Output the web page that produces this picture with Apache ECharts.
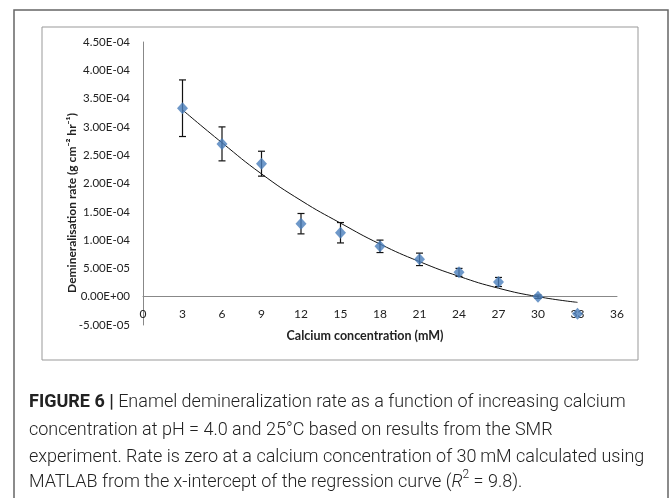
<!DOCTYPE html>
<html>
<head>
<meta charset="utf-8">
<script src="https://cdn.jsdelivr.net/npm/echarts@6/dist/echarts.min.js"></script>
<style>
  html, body { margin: 0; padding: 0; background: #fff; }
  #chart { width: 670px; height: 498px; }
</style>
</head>
<body>
<div id="chart"></div>
<script>
// measured points (calcium mM -> rate g cm-2 hr-1)
const calcium = [3, 6, 9, 12, 15, 18, 21, 24, 27, 30, 33];
const rate = [3.33e-4, 2.70e-4, 2.35e-4, 1.29e-4, 1.13e-4, 8.9e-5, 6.6e-5, 4.3e-5, 2.6e-5, 0, -3.0e-5];
// error bar half-heights (no bar on the last point)
const rateErr = [5.0e-5, 3.0e-5, 2.2e-5, 1.8e-5, 1.8e-5, 1.1e-5, 1.1e-5, 7e-6, 8e-6, 3e-6, 0];
// regression curve
const curveX = [3, 6, 9, 12, 15, 18, 21, 24, 27, 30, 33];
const curveY = [3.30e-4, 2.72e-4, 2.17e-4, 1.70e-4, 1.30e-4, 9.3e-5, 6.2e-5, 3.6e-5, 1.5e-5, 0, -1.0e-5];

const yTicks = { min: -5e-5, max: 4.5e-4, step: 5e-5 };
const xTicks = { min: 0, max: 36, step: 3 };

function sci(v) {
    if (Math.abs(v) < 1e-12) return '0.00E+00';
    const parts = v.toExponential(2).split('e');
    const e = parseInt(parts[1], 10);
    const pad = String(Math.abs(e)).padStart(2, '0');
    return parts[0] + 'E' + (e < 0 ? '-' : '+') + pad;
}

const chart = echarts.init(document.getElementById('chart'));
const labelFont = 'Lato, "Open Sans", sans-serif';
const capFont = 'Roboto, "Liberation Sans", sans-serif';

chart.setOption({
    animation: false,
    grid: { left: 143, right: 53, top: 42, bottom: 173 },
    xAxis: {
        type: 'value',
        min: xTicks.min, max: xTicks.max, interval: xTicks.step,
        axisLine: { onZero: true, lineStyle: { color: '#888', width: 1 } },
        axisTick: { show: false },
        splitLine: { show: false },
        // labels sit just under the zero line, like the original
        axisLabel: { color: '#222', fontSize: 12, fontFamily: labelFont, margin: -17 }
    },
    yAxis: {
        type: 'value',
        min: yTicks.min, max: yTicks.max, interval: yTicks.step,
        axisLine: { show: true, lineStyle: { color: '#888', width: 1 } },
        axisTick: { show: false },
        splitLine: { show: false },
        axisLabel: {
            color: '#222', fontSize: 11.5, fontFamily: labelFont, margin: 13,
            formatter: sci
        }
    },
    series: [
        {
            type: 'line',
            data: curveX.map((x, i) => [x, curveY[i]]),
            smooth: true,
            showSymbol: false,
            lineStyle: { color: '#111', width: 1 },
            z: 3
        },
        {
            type: 'custom',
            data: calcium.map((x, i) => [x, rate[i] - rateErr[i], rate[i] + rateErr[i]]),
            renderItem: function (params, api) {
                const lo = api.coord([api.value(0), api.value(1)]);
                const hi = api.coord([api.value(0), api.value(2)]);
                if (Math.abs(hi[1] - lo[1]) < 1) return null;
                const w = 3.5;
                const st = { stroke: '#111', lineWidth: 1.2 };
                return {
                    type: 'group',
                    children: [
                        { type: 'line', shape: { x1: lo[0], y1: lo[1], x2: hi[0], y2: hi[1] }, style: st },
                        { type: 'line', shape: { x1: lo[0] - w, y1: lo[1], x2: lo[0] + w, y2: lo[1] }, style: st },
                        { type: 'line', shape: { x1: hi[0] - w, y1: hi[1], x2: hi[0] + w, y2: hi[1] }, style: st }
                    ]
                };
            },
            z: 4
        },
        {
            type: 'scatter',
            data: calcium.map((x, i) => [x, rate[i]]),
            symbol: 'diamond',
            symbolSize: [11, 12],
            itemStyle: { color: '#4a7ebb' },
            z: 5
        }
    ],
    graphic: [
        { type: 'rect', shape: { x: 14, y: 10, width: 654, height: 500 },
          style: { fill: 'none', stroke: '#666', lineWidth: 1.5 }, silent: true },
        { type: 'rect', shape: { x: 42, y: 27, width: 596, height: 333 },
          style: { fill: 'none', stroke: '#999', lineWidth: 1 }, silent: true },
        { type: 'text', x: 72, y: 203, rotation: Math.PI / 2,
          style: { text: 'Demineralisation rate (g cm⁻² hr⁻¹)', font: 'bold 12px ' + labelFont,
                   fill: '#222', align: 'center', verticalAlign: 'middle' } },
        { type: 'text', x: 365, y: 336,
          style: { text: 'Calcium concentration (mM)', font: 'bold 12.5px ' + labelFont,
                   fill: '#222', align: 'center', verticalAlign: 'middle' } },
        { type: 'text', x: 29, y: 402,
          style: { text: '{b|FIGURE 6 |} Enamel demineralization rate as a function of increasing calcium',
                   font: '300 18px ' + capFont, fill: '#222', verticalAlign: 'middle',
                   rich: { b: { fontWeight: 'bold', fontSize: 18, fontFamily: capFont, fill: '#222' } } } },
        { type: 'text', x: 29, y: 430,
          style: { text: 'concentration at pH = 4.0 and 25°C based on results from the SMR',
                   font: '300 18px ' + capFont, fill: '#222', verticalAlign: 'middle' } },
        { type: 'text', x: 29, y: 457,
          style: { text: 'experiment. Rate is zero at a calcium concentration of 30\u2009mM calculated using',
                   font: '300 18px ' + capFont, fill: '#222', verticalAlign: 'middle' } },
        { type: 'text', x: 29, y: 482,
          style: { text: 'MATLAB from the x-intercept of the regression curve ({i|R}{s|2} = 9.8).',
                   font: '300 18px ' + capFont, fill: '#222', verticalAlign: 'middle',
                   rich: {
                       i: { fontStyle: 'italic', fontSize: 18, fontWeight: 300, fontFamily: capFont, fill: '#222' },
                       s: { fontSize: 12, fontWeight: 300, fontFamily: capFont, fill: '#222', verticalAlign: 'top', lineHeight: 26 }
                   } } }
    ]
});
</script>
</body>
</html>
